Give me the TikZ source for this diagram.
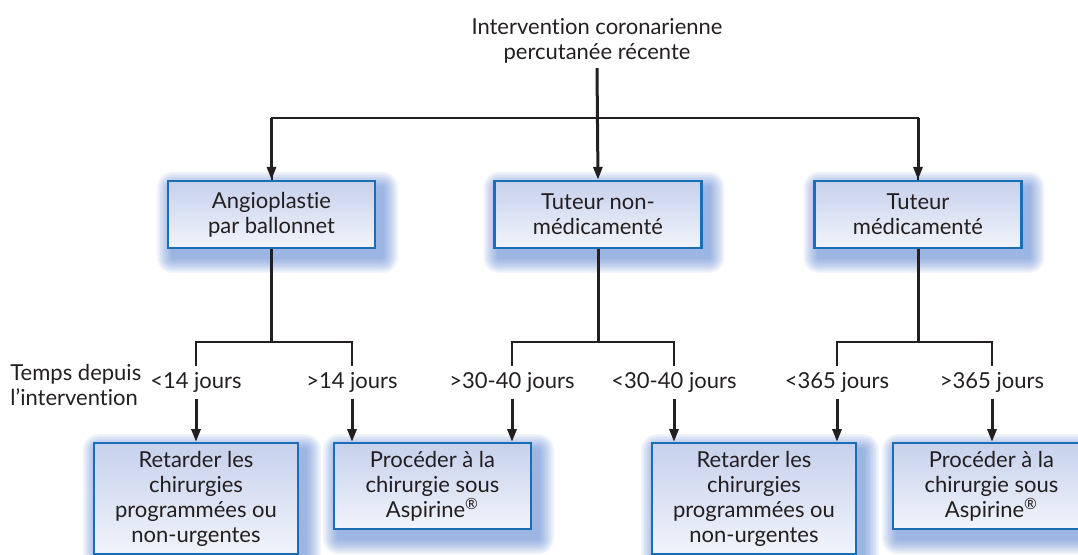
\documentclass[tikz,border=0pt]{standalone}
\usepackage{fontspec}
\setmainfont{Lato}[Ligatures={NoCommon,NoRare}]
\usetikzlibrary{arrows.meta,backgrounds}

\definecolor{boxline}{HTML}{1B6DB5}
\definecolor{boxtop}{HTML}{C6D1EC}
\definecolor{boxbot}{HTML}{F1F4FB}
\definecolor{ink}{HTML}{231F20}
\definecolor{halo}{HTML}{3A6AC6}

\begin{document}
\begin{tikzpicture}[x=0.5pt,y=-0.5pt,>={Triangle[length=6.5pt,width=4.5pt]},
	font=\fontsize{11}{12.5}\selectfont,
	box node/.style={rectangle,draw=boxline,line width=1.2pt,top color=boxtop,bottom color=boxbot,
		align=center,text=ink},
	top node/.style={box node,minimum width=103.5pt,minimum height=33.5pt},
	end node/.style={box node,anchor=north,inner ysep=4pt},
	time node/.style={minimum height=16.5pt,inner sep=0pt,text=ink},
	link/.style={ink,line width=1pt},
	stem/.style={ink,line width=1.5pt}
]
	\useasboundingbox (0,0) rectangle (1078,554);

	\node[align=center,anchor=south,inner sep=2pt,text=ink] (top) at (597,68) {Intervention coronarienne\\percutanée récente};

	\node[top node] (ballon) at (271.5,214.5) {Angioplastie\\par ballonnet};
	\node[top node] (nonmed) at (598,214.5) {Tuteur non-\\médicamenté};
	\node[top node] (med) at (918,214.5) {Tuteur\\médicamenté};

	\node[align=left,anchor=west,inner sep=0pt,text=ink] (temps) at (10,385) {Temps depuis\\l’intervention};

	\node[time node] (t1) at (196,382.5) {<14 jours};
	\node[time node] (t2) at (352,382.5) {>14 jours};
	\node[time node] (t3) at (512,382.5) {>30-40 jours};
	\node[time node] (t4) at (674,382.5) {<30-40 jours};
	\node[time node] (t5) at (837,382.5) {<365 jours};
	\node[time node] (t6) at (992,382.5) {>365 jours};

	\node[end node,minimum width=102pt] (delay1) at (196,442) {Retarder les\\chirurgies\\programmées ou\\non-urgentes};
	\node[end node,minimum width=98.5pt] (aspi1) at (432.5,442) {Procéder à la\\chirurgie sous\\Aspirine\textsuperscript{®}};
	\node[end node,minimum width=102pt] (delay2) at (754,442) {Retarder les\\chirurgies\\programmées ou\\non-urgentes};
	\node[end node,minimum width=98.5pt] (aspi2) at (991.5,442) {Procéder à la\\chirurgie sous\\Aspirine\textsuperscript{®}};

	% soft blue shadows behind the boxes
	\begin{pgfonlayer}{background}
		\foreach \n in {ballon,nonmed,med,delay1,aspi1,delay2,aspi2}
			\foreach \s in {1,...,10}
				\fill[halo,opacity=0.065,rounded corners=\s*0.8pt]
					([xshift=3pt-\s*0.8pt,yshift=-4pt-\s*0.8pt]\n.south west) rectangle
					([xshift=3pt+\s*0.8pt,yshift=-4pt+\s*0.8pt]\n.north east);
	\end{pgfonlayer}

	\coordinate (hub) at (597,118);
	\coordinate (j1) at (271.5,342);
	\coordinate (j2) at (598,342);
	\coordinate (j3) at (918,342);

	% first level
	\draw[stem,->] (top.south) -- (nonmed.north);
	\draw[link] (ballon.north) |- (hub) -| (med.north);
	\draw[stem,->] (ballon.north |- hub) -- (ballon.north);
	\draw[stem,->] (med.north |- hub) -- (med.north);

	% second level
	\draw[stem] (ballon.south) -- (j1);
	\draw[stem] (nonmed.south) -- (j2);
	\draw[stem] (med.south) -- (j3);
	\draw[link] (t1.north) |- (j1) -| (t2.north);
	\draw[link] (t3.north) |- (j2) -| (t4.north);
	\draw[link] (t5.north) |- (j3) -| (t6.north);

	\draw[stem,->] (t1.south) -- (t1.south |- delay1.north);
	\draw[stem,->] (t2.south) -- (t2.south |- aspi1.north);
	\draw[stem,->] (t3.south) -- (t3.south |- aspi1.north);
	\draw[stem,->] (t4.south) -- (t4.south |- delay2.north);
	\draw[stem,->] (t5.south) -- (t5.south |- delay2.north);
	\draw[stem,->] (t6.south) -- (t6.south |- aspi2.north);
\end{tikzpicture}
\end{document}
